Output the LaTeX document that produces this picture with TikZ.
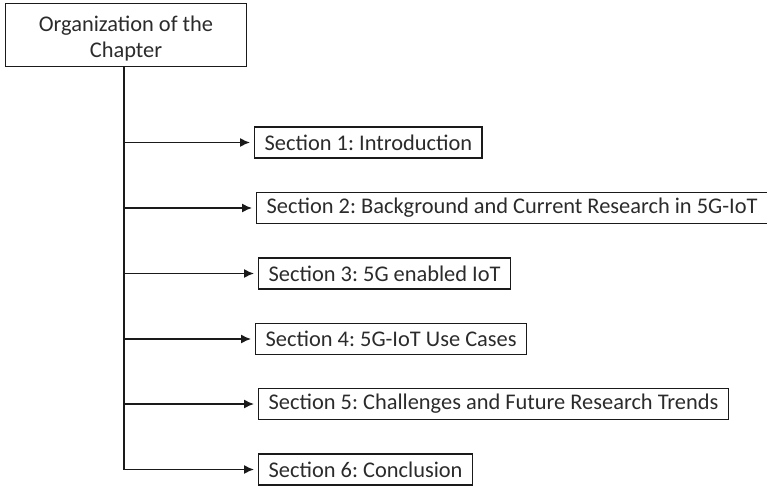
\documentclass[tikz,border=0pt]{standalone}
\usepackage{fontspec}
\setmainfont{Carlito}
\usetikzlibrary{positioning,arrows.meta}
\definecolor{ink}{HTML}{1A1A1A}
\definecolor{txt}{HTML}{2B2B2B}
\tikzset{
  % --- nodes
  sec/.style  = {draw=ink, line width=1.4pt, anchor=west, minimum height=31pt,
                 inner xsep=10pt, inner ysep=0pt, text=txt,
                 font=\fontsize{22.4}{26}\selectfont\frenchspacing},
  head/.style = {sec, anchor=center, align=center, minimum width=241pt,
                 minimum height=63pt},
  % --- edges
  ln/.style   = {draw=ink, line width=1.4pt},
  e/.style    = {ln, -{Latex[length=10pt,width=9pt]}, shorten >=4pt},
}
\begin{document}
\begin{tikzpicture}[x=1pt,y=-1pt]
  \useasboundingbox (0,0) rectangle (767,489);
  \node[head] (org) at (126,35) {\rule{0pt}{23pt}Organization of the\\Chapter};
  \node[sec] (s1) at (254,142.5) {Section 1: Introduction};
  \node[sec] (s2) at (256,208) {Section 2: Background and Current Research in 5G-IoT};
  \node[sec] (s3) at (258,273.5) {Section 3: 5G enabled IoT};
  \node[sec] (s4) at (255,339) {Section 4: 5G-IoT Use Cases};
  \node[sec] (s5) at (258,404) {Section 5: Challenges and Future Research Trends};
  \node[sec] (s6) at (258,469.5) {Section 6: Conclusion};
  \coordinate (trunk) at (124,0 |- s6.west);
  \draw[ln] (124,0 |- org.south) -- (trunk);
  \foreach \i in {1,...,6}
    \draw[e] (trunk |- s\i.west) -- (s\i.west);
\end{tikzpicture}
\end{document}
